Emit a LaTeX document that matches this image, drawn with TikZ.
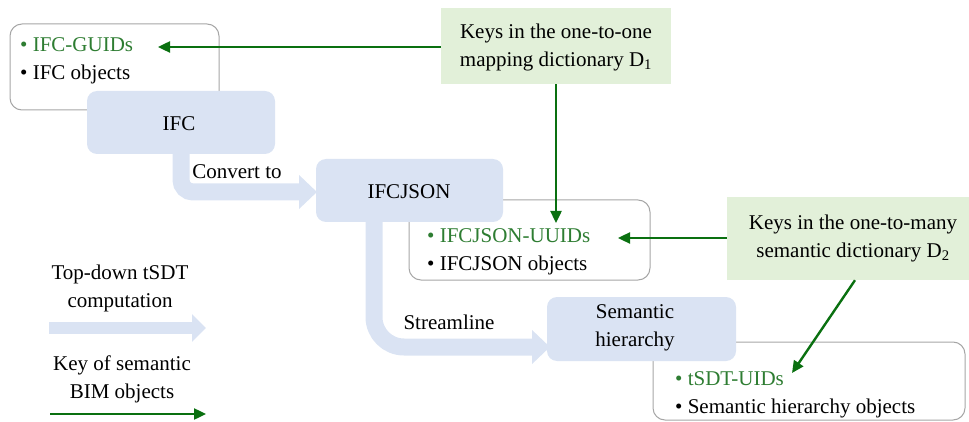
\documentclass[tikz,border=0pt]{standalone}
\usepackage{fontspec}
\setmainfont{Liberation Serif}
\newfontfamily\tmsfont{Liberation Serif}
\usetikzlibrary{arrows.meta}
\definecolor{flowblue}{HTML}{DAE3F3}
\definecolor{keygreen}{HTML}{E2F0D9}
\definecolor{arrgreen}{HTML}{0A7010}
\definecolor{txtgreen}{HTML}{2E7D32}
\definecolor{boxgray}{HTML}{A6A6A6}
\begin{document}
\begin{tikzpicture}[x=1pt,y=-1pt,
  font=\tmsfont\fontsize{21}{28}\selectfont,
  blockbox/.style={fill=flowblue, rounded corners=10pt, inner sep=0pt},
  listbox/.style={draw=boxgray, line width=1pt, fill=white, rounded corners=12pt, inner sep=0pt},
  keybox/.style={fill=keygreen, inner sep=0pt, align=center},
  item/.style={anchor=west, inner sep=0pt, text height=14pt, text depth=4pt},
  flow/.style={draw=flowblue, line width=17pt, -{Triangle[width=33pt,length=18pt]}, fill=none},
  keyarrow/.style={draw=arrgreen, line width=2.4pt, -{Triangle[width=11pt,length=12pt]}},
  lbl/.style={inner sep=0pt, align=center}
]
\useasboundingbox (0,0) rectangle (969,422);

% list boxes (behind)
\node[listbox, minimum width=209pt, minimum height=86pt] (guidbox) at (114.5,67) {};
\node[listbox, minimum width=241pt, minimum height=80pt] (uuidbox) at (529.5,240) {};
\node[listbox, minimum width=312pt, minimum height=78pt] (tsdtbox) at (809,381) {};

% flow blocks
\node[blockbox, minimum width=188pt, minimum height=63pt] (ifc) at (181,122.5) {};
\node[lbl] at (179,124) {IFC};
\node[blockbox, minimum width=187pt, minimum height=63pt] (ifcjson) at (409.5,190.5) {};
\node[lbl] at (409,192) {IFCJSON};
\node[blockbox, minimum width=189pt, minimum height=64pt] (sem) at (641.5,329) {};
\node[lbl] at (635,328) {Semantic\\hierarchy};

% key boxes
\node[keybox, minimum width=230pt, minimum height=76pt] (d1) at (556,46) {};
\node[lbl] at (556,47) {Keys in the one-to-one\\mapping dictionary D\textsubscript{1}};
\node[keybox, minimum width=242pt, minimum height=83pt] (d2) at (848,238.5) {};
\node[lbl] at (853,238) {Keys in the one-to-many\\semantic dictionary D\textsubscript{2}};

% list items
\node[item, text=txtgreen] (guids) at (20,47) {\textbullet\ IFC-GUIDs};
\node[item] (ifcobj) at (20,75) {\textbullet\ IFC objects};
\node[item, text=txtgreen] (uuids) at (427,238) {\textbullet\ IFCJSON-UUIDs};
\node[item] (jsonobj) at (427,265) {\textbullet\ IFCJSON objects};
\node[item, text=txtgreen] (tuids) at (675,380) {\textbullet\ tSDT-UIDs};
\node[item] (semobj) at (675,408) {\textbullet\ Semantic hierarchy objects};

% thick flow arrows
\coordinate (convA) at (181,154);
\coordinate (convB) at (317,192);
\draw[flow, rounded corners=12pt] (convA) |- (convB);
\node[lbl] at (237,172) {Convert to};
\coordinate (strA) at (374,222);
\coordinate (strB) at (550,347);
\draw[flow, rounded corners=30pt] (strA) |- (strB);
\node[lbl] at (449,322) {Streamline};

% key arrows
\coordinate (guidtip) at (158,47);
\draw[keyarrow] (d1.west |- guidtip) -- (guidtip);
\coordinate (uuidtop) at (556,223);
\draw[keyarrow] (d1.south) -- (uuidtop);
\coordinate (uuidtip) at (618,238);
\draw[keyarrow] (d2.west |- uuidtip) -- (uuidtip);
\coordinate (tsdttip) at (792,373);
\draw[keyarrow] ([xshift=7pt]d2.south) -- (tsdttip);

% legend
\node[lbl] (leg1) at (120,288) {Top-down tSDT\\computation};
\coordinate (l1a) at (49,328);
\coordinate (l1b) at (206,328);
\draw[draw=flowblue, line width=12pt, -{Triangle[width=27pt,length=14pt]}] (l1a) -- (l1b);
\node[lbl] (leg2) at (122,379) {Key of semantic\\BIM objects};
\coordinate (l2a) at (50,414);
\coordinate (l2b) at (206,414);
\draw[keyarrow] (l2a) -- (l2b);
\end{tikzpicture}
\end{document}
